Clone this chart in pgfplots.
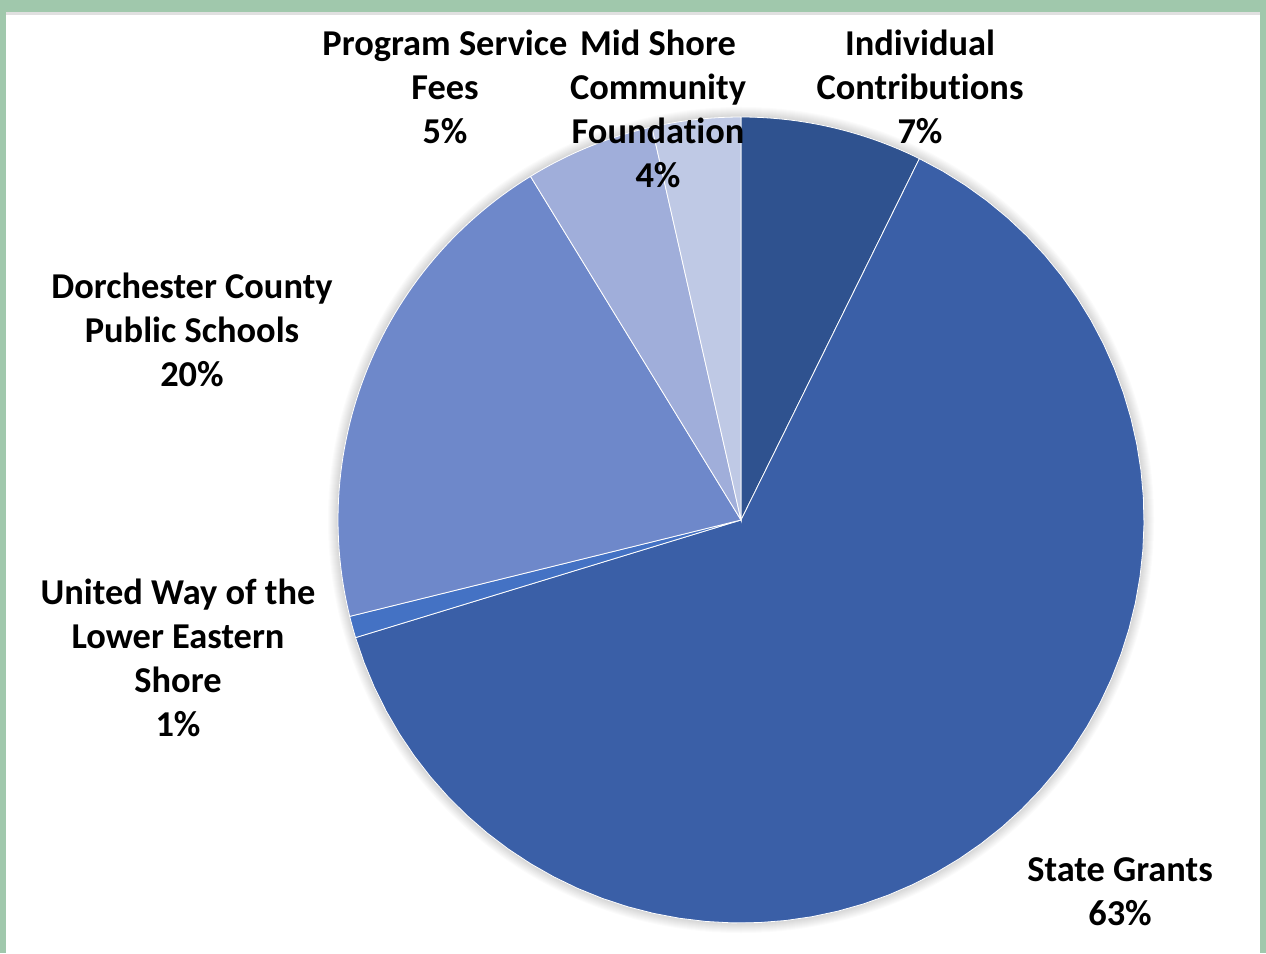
\documentclass[border=0pt]{standalone}
\usepackage{pgfplots}
\pgfplotsset{compat=1.18}
\usepackage{fontspec}
\setmainfont{Carlito}[Ligatures=NoCommon]

\definecolor{frame}{RGB}{160,200,172}
\definecolor{cA}{RGB}{47,82,143}
\definecolor{cB}{RGB}{58,95,167}
\definecolor{cC}{RGB}{68,114,196}
\definecolor{cD}{RGB}{110,136,202}
\definecolor{cE}{RGB}{160,174,218}
\definecolor{cF}{RGB}{191,201,229}
\tikzset{lbl/.style={font=\fontsize{18.2}{22}\selectfont\bfseries, align=center, text=black, inner sep=0pt}}

\begin{document}
\begin{tikzpicture}
\begin{axis}[
  hide axis, scale only axis,
  width=633pt, height=476.5pt,
  xmin=0, xmax=1266, ymin=0, ymax=953,
  clip=false,
]
% frame
\fill[frame] (axis cs:0,0) rectangle (axis cs:1266,953);
\fill[black!12] (axis cs:6,0) rectangle (axis cs:1260,941);
\fill[white] (axis cs:6,0) rectangle (axis cs:1260,938);

% soft shadow round the pie
\foreach \k in {1,...,10}{
  \pgfmathsetmacro{\rr}{201.5+0.5*\k}
  \edef\shad{\noexpand\fill[black, fill opacity=0.014] (axis cs:741,433) circle[radius=\rr pt];}
  \shad
}

% slices, clockwise from 12 o'clock (shares in percent)
\foreach \v/\c [remember=\e as \s (initially 90)] in {7.3/cA,63.0/cB,0.87/cC,20.1/cD,5.2/cE,3.55/cF}{
  \pgfmathsetmacro{\e}{\s-3.6*\v/1.0002}
  \gdef\pts{}
  \foreach \i in {0,...,60}{
    \pgfmathsetmacro{\a}{\s+(\e-\s)*\i/60}
    \pgfmathsetmacro{\px}{741+403*cos(\a)}
    \pgfmathsetmacro{\py}{433+403*sin(\a)}
    \xdef\pts{\pts -- (axis cs:\px,\py)}
  }
  \edef\slice{\noexpand\filldraw[fill=\c, draw=white, line width=0.4pt] (axis cs:741,433) \pts -- cycle;}
  \slice
}

% data labels
\node[lbl] at (axis cs:445,866) {Program Service\\Fees\\5\%};
\node[lbl] at (axis cs:658,844) {Mid Shore\\Community\\Foundation\\4\%};
\node[lbl] at (axis cs:920,866) {Individual\\Contributions\\7\%};
\node[lbl] at (axis cs:192,623) {Dorchester County\\Public Schools\\20\%};
\node[lbl] at (axis cs:178,295) {United Way of the\\Lower Eastern\\Shore\\1\%};
\node[lbl] at (axis cs:1120,61.5) {State Grants\\63\%};
\end{axis}
\end{tikzpicture}
\end{document}
